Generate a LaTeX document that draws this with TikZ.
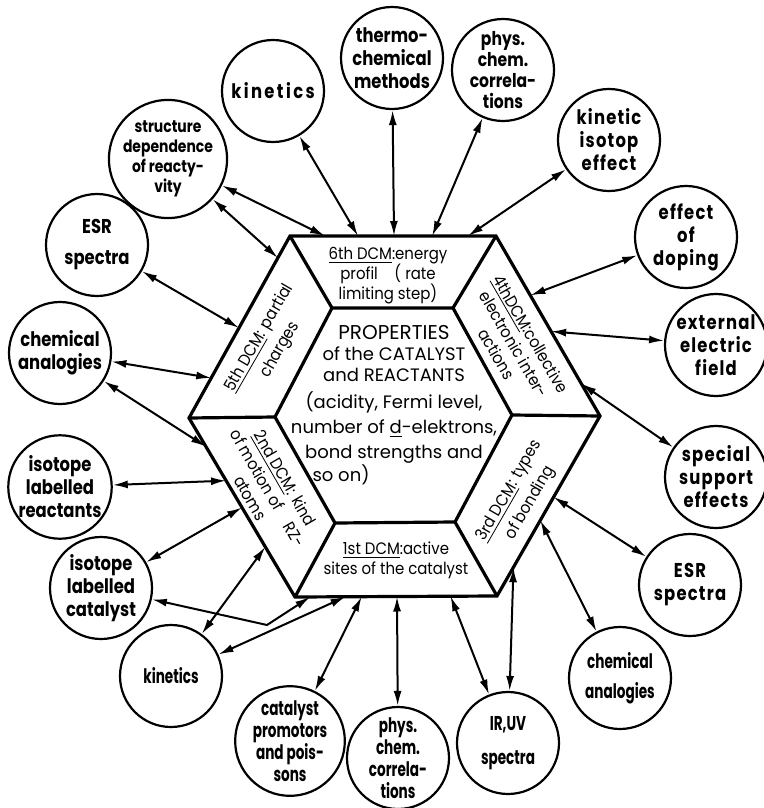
\documentclass[tikz,border=0pt]{standalone}
\usepackage{fontspec}
\setmainfont{Poppins}
\newfontfamily\circfont[FakeStretch=0.82]{Poppins}
\newfontfamily\narrowfont[FakeStretch=0.68]{Poppins}
\newfontfamily\hexfont[FakeStretch=0.9]{Poppins}
\usetikzlibrary{arrows.meta,calc}

\begin{document}
\begin{tikzpicture}[x=0.5pt,y=-0.5pt,
        bubble/.style={circle,draw,line width=1.1pt,minimum size=51pt,inner sep=0pt,align=center,
            font=\circfont\bfseries\fontsize{10}{11.5}\selectfont},
        spacedbubble/.style={bubble,font=\circfont\bfseries\fontsize{10}{11.5}\selectfont\addfontfeature{LetterSpace=6}},
        narrowbubble/.style={bubble,font=\narrowfont\bfseries\fontsize{10}{11}\selectfont},
        link/.style={<->,>={Latex[length=7.5pt,width=4pt]},line width=1pt},
        hexline/.style={line width=1.6pt},
        hextext/.style={align=center,inner sep=0pt,font=\hexfont\fontsize{8.3}{10}\selectfont}]
        \useasboundingbox (0,0) rectangle (764,808);

        \coordinate (oTL) at (290,236);
        \coordinate (oTR) at (496,236);
        \coordinate (oR) at (600,416);
        \coordinate (oBR) at (497,596);
        \coordinate (oBL) at (295,597);
        \coordinate (oL) at (189,418);

        \coordinate (iTL) at (332,308);
        \coordinate (iTR) at (453,308);
        \coordinate (iR) at (512,415);
        \coordinate (iBR) at (455,522);
        \coordinate (iBL) at (335,523);
        \coordinate (iL) at (275,417);

        \node[bubble,font=\circfont\bfseries\fontsize{10}{11.5}\selectfont\addfontfeature{LetterSpace=12}] (kintop) at (273,91) {kinetics};
        \node[bubble] (thermo) at (392,58) {thermo-\\chemical\\methods};
        \node[bubble,font=\circfont\bfseries\fontsize{9.5}{10.5}\selectfont] (pcctop) at (503,70) {phys.\\chem.\\correla-\\tions};
        \node[spacedbubble] (kiso) at (609,140) {kinetic\\isotop\\effect};
        \node[spacedbubble] (doping) at (686,237) {effect\\of\\doping};
        \node[spacedbubble] (field) at (716,345) {external\\electric\\field};
        \node[spacedbubble] (support) at (716,477) {special\\support\\effects};
        \node[spacedbubble] (esrright) at (690,585) {ESR\\spectra};
        \node[narrowbubble] (analright) at (620,678) {chemical\\[4pt]analogies};
        \node[narrowbubble] (iruv) at (508,743) {IR,UV\\[6pt]spectra};
        \node[narrowbubble] (pccbot) at (398,758) {phys.\\chem.\\correla-\\tions};
        \node[narrowbubble] (promot) at (290,741) {catalyst\\promotors\\and pois-\\sons};
        \node[narrowbubble] (kinbot) at (171,676) {kinetics};
        \node[bubble] (isocat) at (101,588) {isotope\\labelled\\catalyst};
        \node[bubble] (isoreac) at (60,487) {isotope\\labelled\\reactants};
        \node[bubble] (analleft) at (60,353) {chemical\\analogies};
        \node[bubble] (esrleft) at (97,245) {ESR\\[4pt]spectra};
        \node[bubble,font=\circfont\bfseries\fontsize{8.5}{10}\selectfont] (struct) at (168,159)
            {structure\\dependence\\of reacty-\\vity};

        \coordinate (t1) at ($(oTL)!0.17!(oTR)$);
        \coordinate (t2) at ($(oTL)!0.33!(oTR)$);
        \coordinate (t3) at ($(oTL)!0.505!(oTR)$);
        \coordinate (t4) at ($(oTL)!0.69!(oTR)$);
        \coordinate (t5) at ($(oTL)!0.864!(oTR)$);
        \coordinate (ul1) at ($(oTL)!0.12!(oL)$);
        \coordinate (ul2) at ($(oTL)!0.505!(oL)$);
        \coordinate (ul3) at ($(oTL)!0.78!(oL)$);
        \coordinate (ll1) at ($(oL)!0.16!(oBL)$);
        \coordinate (ll2) at ($(oL)!0.35!(oBL)$);
        \coordinate (ll3) at ($(oL)!0.50!(oBL)$);
        \coordinate (ll4) at ($(oL)!0.72!(oBL)$);
        \coordinate (b1) at ($(oBL)!0.075!(oBR)$);
        \coordinate (b2) at ($(oBL)!0.25!(oBR)$);
        \coordinate (b3) at ($(oBL)!0.33!(oBR)$);
        \coordinate (b4) at ($(oBL)!0.505!(oBR)$);
        \coordinate (b5) at ($(oBL)!0.77!(oBR)$);
        \coordinate (lr1) at ($(oR)!0.45!(oBR)$);
        \coordinate (lr2) at ($(oR)!0.58!(oBR)$);
        \coordinate (lr3) at ($(oR)!0.84!(oBR)$);
        \coordinate (ur1) at ($(oTR)!0.33!(oR)$);
        \coordinate (ur2) at ($(oTR)!0.53!(oR)$);
        \coordinate (ur3) at ($(oTR)!0.82!(oR)$);
        \coordinate (bend) at (267,625);

        \draw[link] (struct) -- (t1);
        \draw[link] (kintop) -- (t2);
        \draw[link] (thermo) -- (t3);
        \draw[link] (pcctop) -- (t4);
        \draw[link] (kiso) -- (t5);
        \draw[link] (struct) -- (ul1);
        \draw[link] (esrleft) -- (ul2);
        \draw[link] (analleft) -- (ul3);
        \draw[link] (analleft) -- (ll1);
        \draw[link] (isoreac) -- (ll2);
        \draw[link] (isocat) -- (ll3);
        \draw[link] (isocat) -- (bend) -- (b1);
        \draw[link,preaction={draw,white,line width=5pt,-,shorten <=14pt,shorten >=14pt}] (kinbot) -- (ll4);
        \draw[link] (kinbot) -- (b2);
        \draw[link] (promot) -- (b3);
        \draw[link] (pccbot) -- (b4);
        \draw[link] (iruv) -- (b5);
        \draw[link] (iruv) -- (lr3);
        \draw[link] (analright) -- (lr2);
        \draw[link] (esrright) -- (lr1);
        \draw[link] (support) -- (ur3);
        \draw[link] (field) -- (ur2);
        \draw[link] (doping) -- (ur1);

        \draw[hexline] (oTL) -- (oTR) -- (oR) -- (oBR) -- (oBL) -- (oL) -- cycle;
        \draw[hexline] (iTL) -- (iTR) -- (iR) -- (iBR) -- (iBL) -- (iL) -- cycle;
        \draw[hexline] (oTL) -- (iTL);
        \draw[hexline] (oTR) -- (iTR);
        \draw[hexline] (oR) -- (iR);
        \draw[hexline] (oBR) -- (iBR);
        \draw[hexline] (oBL) -- (iBL);
        \draw[hexline] (oL) -- (iL);

        \node[hextext] (dcm6) at (388,276) {\underline{6th DCM}:energy\\profil\quad( rate\\limiting step)};
        \node[hextext,rotate=-60] (dcm4) at (514,344) {\underline{4thDCM}:collective\\electronic inter-\\actions};
        \node[hextext,rotate=60] (dcm3) at (520,497) {\underline{3rd DCM}: types\\[2pt]of bonding};
        \node[hextext] (dcm1) at (396,560) {\underline{1st DCM}:active\\sites of the catalyst};
        \node[hextext,rotate=-60] (dcm2) at (268,488) {\underline{2nd DCM}: kind\\of motion of\quad RZ-\\atoms};
        \node[hextext,rotate=60] (dcm5) at (270,344) {\underline{5th DCM}: partial\\[2pt]charges};
        \node[hextext,font=\fontsize{9}{10.5}\selectfont] (props) at (394,405)
            {{\fontsize{10}{10}\selectfont PROPERTIES}\\of the CATALYST\\and REACTANTS\\[3pt]
            (acidity, Fermi level,\\[2pt]number of \underline{d}-elektrons,\\[2pt]bond strengths and\\so on)\hspace*{53pt}};
    \end{tikzpicture}
\end{document}
